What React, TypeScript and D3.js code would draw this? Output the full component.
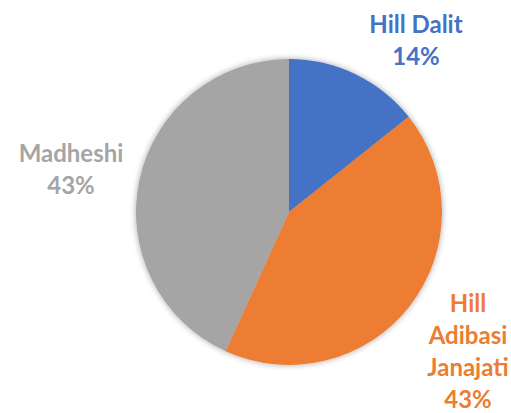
import React from "react";
import * as d3 from "d3";

const categories = ["Hill Dalit", "Hill Adibasi Janajati", "Madheshi"];
const values = [14.3, 42.5, 43.2];
const percentLabels = ["14%", "43%", "43%"];
const colors = ["#4472C4", "#ED7D31", "#A5A5A5"];
const labelLines = [["Hill Dalit", "14%"], ["Hill", "Adibasi", "Janajati", "43%"], ["Madheshi", "43%"]];
const labelAnchors: [number, number][] = [[416, 33], [468, 312], [71, 162]];

export default function App() {
  const W = 511, H = 413;
  const cx = 289, cy = 212, r = 153;
  const pie = d3.pie<number>().sort(null).value((d) => d)(values);
  const arc = d3.arc<d3.PieArcDatum<number>>().innerRadius(0).outerRadius(r);
  const lineH = 32;
  return (
    <svg width={W} height={H} style={{ position: "absolute", left: 0, top: 0 }}>
      <defs>
        <filter id="sh" x="-20%" y="-20%" width="140%" height="140%">
          <feGaussianBlur in="SourceAlpha" stdDeviation="3" />
          <feOffset dx="0" dy="0" result="b" />
          <feComponentTransfer><feFuncA type="linear" slope="0.35" /></feComponentTransfer>
          <feMerge><feMergeNode /><feMergeNode in="SourceGraphic" /></feMerge>
        </filter>
      </defs>
      <rect width={W} height={H} fill="#fff" />
      <g transform={`translate(${cx},${cy})`} filter="url(#sh)">
        {pie.map((p, i) => (
          <path key={categories[i]} d={arc(p) || ""} fill={colors[i]} />
        ))}
      </g>
      {labelLines.map((lines, i) => (
        <text key={i} fill={colors[i]} fontFamily="Lato, sans-serif" fontWeight="bold" fontSize={24} textAnchor="middle">
          {lines.map((l, j) => (
            <tspan key={j} x={labelAnchors[i][0]} y={labelAnchors[i][1] + j * lineH}>{l}</tspan>
          ))}
        </text>
      ))}
    </svg>
  );
}
